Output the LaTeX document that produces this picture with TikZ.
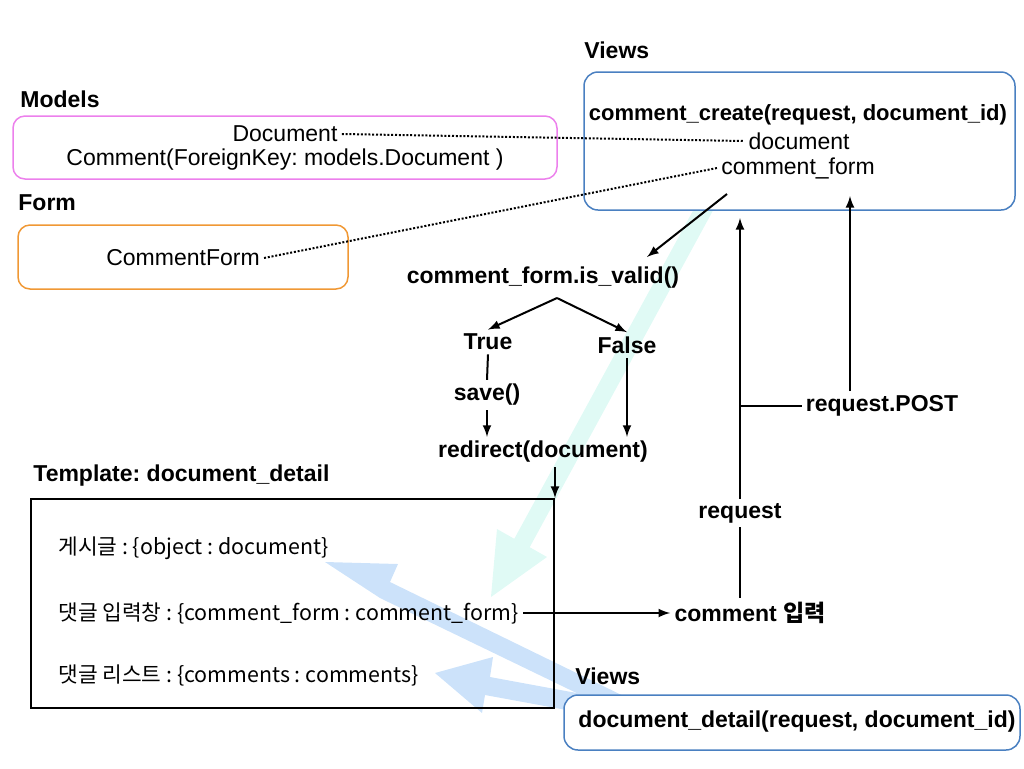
\documentclass[tikz,border=0pt]{standalone}
\usepackage{fontspec}
\setmainfont{Liberation Sans}
\newfontfamily\kr{Noto Sans CJK KR}
\usetikzlibrary{positioning}
\definecolor{viewblue}{RGB}{74,128,193}
\definecolor{modelpink}{RGB}{236,128,236}
\definecolor{formorange}{RGB}{240,152,52}
\definecolor{bandcyan}{RGB}{224,250,245}
\definecolor{bandblue}{RGB}{204,226,250}
\frenchspacing
\begin{document}
\begin{tikzpicture}[x=0.5pt,y=-0.5pt,
    lbl/.style={font=\fontsize{11.5}{13}\selectfont\bfseries, inner sep=2pt},
    txt/.style={font=\fontsize{11.5}{13}\selectfont, inner sep=2pt},
    tpltxt/.style={font=\kr\fontsize{10.7}{13}\selectfont, anchor=west, inner sep=2pt},
    title/.style={font=\fontsize{11.5}{13}\selectfont\bfseries, anchor=west, inner sep=0pt},
    viewbox/.style={draw=viewblue, line width=0.75pt, rounded corners=7pt, fill=white},
    link/.style={line width=1pt},
    dotlink/.style={line width=1pt, dash pattern=on 1pt off 0.9pt}]
  \useasboundingbox (0,0) rectangle (1024,768);
  % big arrows underneath
  \fill[bandcyan] (491,597) -- (497,529) -- (514.3,538.8) -- (698.8,200)
    -- (718.7,200) -- (529.7,547.2) -- (547,557) -- cycle;
  \fill[bandblue] (325,562) -- (398,564) -- (390,582) -- (640,704)
    -- (620,714) -- (380,598) -- cycle;
  \fill[bandblue] (435,673) -- (493,657) -- (490,677) -- (620,701)
    -- (610,718) -- (485,695) -- (482,713) -- cycle;

  % boxes
  \node[viewbox, minimum width=215.5pt, minimum height=69pt] (views) at (799.5,141) {};
  \node[draw=modelpink, line width=0.75pt, rounded corners=6pt,
    minimum width=272pt, minimum height=31.5pt] (models) at (285,147.5) {};
  \node[draw=formorange, line width=0.75pt, rounded corners=6pt,
    minimum width=165pt, minimum height=32pt] (form) at (183,257) {};
  \node[draw, line width=1pt, minimum width=261.5pt, minimum height=104.5pt] (tpl) at (292.5,603.5) {};
  \node[viewbox, minimum width=228pt, minimum height=27.5pt] (viewsb) at (792,722.5) {};

  % titles
  \node[title] (tviews) at (584,50) {Views};
  \node[title] (tmodels) at (20,99) {Models};
  \node[title] (tform) at (18,203) {Form};
  \node[title] (ttpl) at (33,476) {Template: document\_detail};
  \node[title] (tviewsb) at (575,676) {Views};

  % texts
  \node[lbl, font=\fontsize{11}{13}\selectfont\bfseries] (cc) at (798,115) {comment\_create(request, document\_id)};
  \node[txt] (vdoc) at (799,141) {document};
  \node[txt] (vform) at (798,168) {comment\_form};
  \node[txt] (mdoc) at (285,134) {Document};
  \node[txt] (mcom) at (285,160) {Comment(ForeignKey: models.Document )};
  \node[txt] (cform) at (183,258) {CommentForm};
  \node[lbl] (isvalid) at (543,278) {comment\_form.is\_valid()};
  \node[lbl] (true) at (488,342) {True};
  \node[lbl] (false) at (627,345) {False};
  \node[lbl] (save) at (487,395) {save()};
  \node[lbl] (redirect) at (543,452) {redirect(document)};
  \node[tpltxt] (t1) at (54,548) {게시글 : \{object : document\}};
  \node[tpltxt] (t2) at (54,613) {댓글 입력창 : \{comment\_form : comment\_form\}};
  \node[tpltxt] (t3) at (54,675) {댓글 리스트 : \{comments : comments\}};
  \node[lbl] (cin) at (750,613) {comment {\kr 입력}};
  \node[lbl] (request) at (740,513) {request};
  \node[lbl] (post) at (882,406) {request.POST};
  \node[lbl] (dd) at (797,722) {document\_detail(request, document\_id)};

  % connectors
  \draw[dotlink] (mdoc.east) -- (vdoc.west);
  \draw[dotlink] (cform.east) -- (vform.west);
  \coordinate (vout) at (727,194);
  \coordinate (vin) at (647,257);
  \draw[link,-latex] (vout) -- (vin);
  \coordinate (split) at (557,298);
  \draw[link,-latex] (split) -- (true.north);
  \draw[link,-latex] (split) -- (false.north);
  \draw[link] (true.south) -- (save.north);
  \draw[link,-latex] (save.south) -- (save.south |- redirect.north);
  \draw[link,-latex] (false.south) -- (false.south |- redirect.north);
  \draw[link,-latex] (redirect.south -| tpl.north east) -- (tpl.north east);
  \draw[link,-latex] (t2.east) -- (cin.west);
  \draw[link] (cin.north -| request.south) -- (request.south);
  \coordinate (rtop) at (740,218);
  \draw[link,-latex] (request.north) -- (rtop);
  \draw[link] (post.west) -- (post.west -| rtop);
  \coordinate (ptop) at (850,196);
  \draw[link,-latex] (ptop |- post.north) -- (ptop);
\end{tikzpicture}
\end{document}
